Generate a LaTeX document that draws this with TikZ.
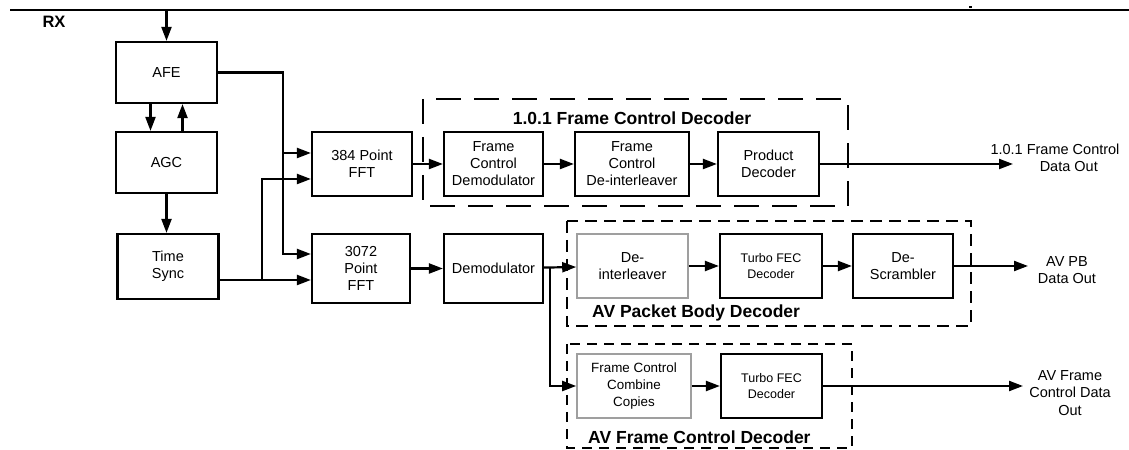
\documentclass[tikz,border=0pt]{standalone}
\usepackage{fontspec}
\setmainfont{Liberation Sans}
\usetikzlibrary{arrows.meta}
\tikzset{
  blk/.style={draw,line width=2.2bp,align=center,inner sep=0pt,font=\fontsize{14.5bp}{17bp}\selectfont},
  grayblk/.style={blk,draw=gray!75,line width=1.6bp},
  arr/.style={line width=2.2bp,-{Triangle[length=14bp,width=10bp]}},
  wire/.style={line width=2.2bp},
  grp/.style={line width=2.2bp},
  grptitle/.style={font=\fontsize{17.5bp}{20bp}\selectfont\bfseries,inner sep=0pt},
  outlbl/.style={align=center,inner sep=0pt,font=\fontsize{14.5bp}{17.5bp}\selectfont}
}
\begin{document}
\begin{tikzpicture}[x=1bp,y=-1bp]
\useasboundingbox (0,0) rectangle (1129,450);
\coordinate (busL) at (10,10);
\coordinate (busR) at (1129,10);
\draw[line width=2.6bp] (busL) -- (busR);
\fill (969,6) rectangle (971.5,8.5);
\node[font=\fontsize{16.5bp}{18bp}\selectfont\bfseries,inner sep=0pt] (rx) at (54,22) {RX};
\node[blk,minimum width=101bp,minimum height=61bp] (afe) at (166.5,72.5) {AFE};
\node[blk,minimum width=101bp,minimum height=61bp] (agc) at (166.5,162.5) {AGC};
\node[blk,minimum width=101bp,minimum height=65bp] (tsync) at (168,266.5) {Time\\Sync};
\node[blk,minimum width=100bp,minimum height=64bp] (fftA) at (362,164) {384 Point\\FFT};
\node[blk,minimum width=98bp,minimum height=69bp] (fftB) at (361,268.5) {3072\\Point\\FFT};
\node[blk,minimum width=99bp,minimum height=69bp] (demod) at (493.5,268.5) {Demodulator};
\draw[grp,dash pattern=on 25bp off 13bp] (423,99) rectangle (848,206);
\node[grptitle] (fctitle) at (632,118) {1.0.1 Frame Control Decoder};
\node[blk,minimum width=99bp,minimum height=64bp] (fcdem) at (493.5,164) {Frame\\Control\\Demodulator};
\node[blk,minimum width=114bp,minimum height=64bp] (fcdei) at (632,164) {Frame\\Control\\De-interleaver};
\node[blk,minimum width=101bp,minimum height=64bp] (prod) at (768.5,164) {Product\\Decoder};
\draw[grp,dash pattern=on 12bp off 7bp] (567,221) rectangle (971,326);
\node[grptitle,anchor=west] (pbtitle) at (592,313) {AV Packet Body Decoder};
\node[grayblk,minimum width=111bp,minimum height=64bp] (deint) at (632.5,266) {De-\\interleaver};
\node[blk,minimum width=102bp,minimum height=64bp,font=\fontsize{12.5bp}{15.7bp}\selectfont] (turboA) at (771,266) {Turbo FEC\\Decoder};
\node[blk,minimum width=100bp,minimum height=64bp] (descr) at (903,266) {De-\\Scrambler};
\draw[grp,dash pattern=on 10bp off 7bp] (567,344) rectangle (852,448);
\node[grptitle,anchor=west] (afctitle) at (588,437) {AV Frame Control Decoder};
\node[grayblk,minimum width=114bp,minimum height=64bp,font=\fontsize{13.4bp}{16.7bp}\selectfont] (comb) at (634,386) {Frame Control\\Combine\\Copies};
\node[blk,minimum width=101bp,minimum height=64bp,font=\fontsize{12.5bp}{15.7bp}\selectfont] (turboB) at (771.5,386) {Turbo FEC\\Decoder};
\node[outlbl] (out1) at (1055,158) {1.0.1 Frame Control\\\hspace*{1.9em}Data Out};
\node[outlbl] (out2) at (1067,270) {AV PB\\Data Out};
\node[outlbl] (out3) at (1070,393) {AV Frame\\Control Data\\Out};
\coordinate (rxtap) at (afe.north |- busL);
\coordinate (busA) at (283,0);
\coordinate (busB) at (262,0);
\coordinate (fftAin1) at ([yshift=11bp]fftA.west);
\coordinate (fftAin2) at ([yshift=-15bp]fftA.west);
\coordinate (fftBin1) at ([yshift=14.5bp]fftB.west);
\coordinate (fftBin2) at ([yshift=-11.5bp]fftB.west);
\coordinate (dsplit) at ([xshift=6bp]demod.east);
\coordinate (o1) at (1013,164);
\coordinate (o2) at (1028,266);
\coordinate (o3) at (1023,386);
\draw[arr] (rxtap) -- (afe.north);
\draw[arr] ([xshift=-16bp]afe.south) -- ([xshift=-16bp]agc.north);
\draw[arr] ([xshift=16bp]agc.north) -- ([xshift=16bp]afe.south);
\draw[arr] (agc.south) -- (agc.south |- tsync.north);
\draw[arr] (afe.east) -| (busA |- fftBin1) -- (fftBin1);
\draw[arr] (busA |- fftAin1) -- (fftAin1);
\draw[arr] (tsync.east |- fftBin2) -- (fftBin2);
\draw[arr] (busB |- fftBin2) -- (busB |- fftAin2) -- (fftAin2);
\draw[arr] (fftA) -- (fcdem);
\draw[arr] (fcdem) -- (fcdei);
\draw[arr] (fcdei) -- (prod);
\draw[arr] (prod) -- (o1);
\draw[arr] (fftB) -- (demod);
\draw[arr] (demod) -- (deint);
\draw[arr] (deint) -- (turboA);
\draw[arr] (turboA) -- (descr);
\draw[arr] (descr) -- (o2);
\draw[arr] (dsplit) |- (comb.west);
\draw[arr] (comb) -- (turboB);
\draw[arr] (turboB) -- (o3);
\end{tikzpicture}
\end{document}
